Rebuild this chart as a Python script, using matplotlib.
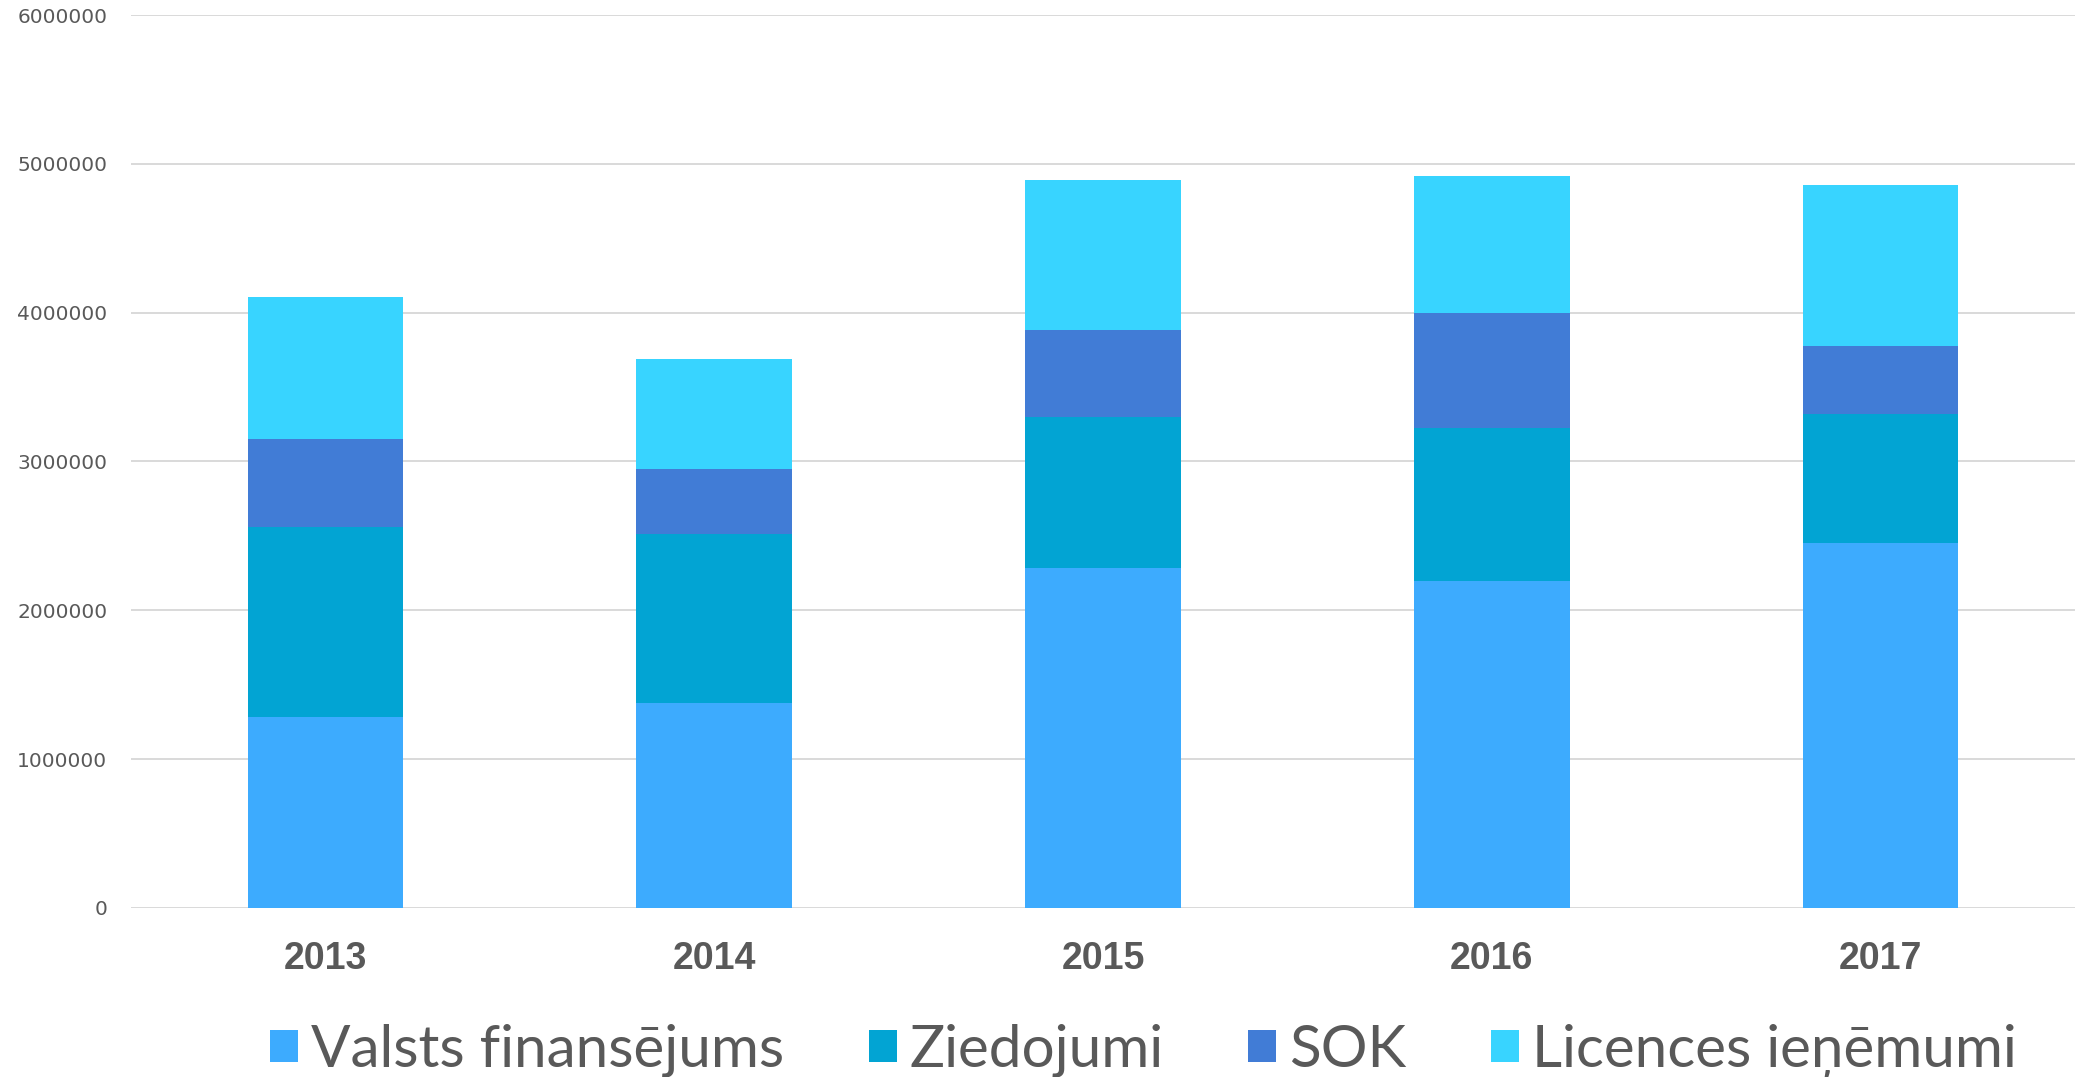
import numpy as np
import matplotlib
matplotlib.use("Agg")
import matplotlib.pyplot as plt
from matplotlib.patches import Patch

years = ["2013", "2014", "2015", "2016", "2017"]
valsts = [1283000, 1378000, 2284000, 2196000, 2454000]
ziedojumi = [1275000, 1138000, 1014000, 1031000, 864000]
sok = [594000, 434000, 586000, 773000, 456000]
licences = [952000, 740000, 1005000, 916000, 1086000]

labels = ["Valsts finansējums", "Ziedojumi", "SOK", "Licences ieņēmumi"]
colors = ["#3DABFE", "#02A4D3", "#417CD6", "#38D4FF"]
gray = "#595959"

fig = plt.figure(figsize=(20.75, 10.77), dpi=100)
ax = fig.add_axes([0.0631, 0.157, 0.9369, 0.829])

x = np.arange(len(years))
bottom = np.zeros(len(years))
for vals, c in zip([valsts, ziedojumi, sok, licences], colors):
    ax.bar(x, vals, width=0.40, bottom=bottom, color=c, zorder=3)
    bottom += np.array(vals)

ax.set_xlim(-0.5, len(years) - 0.5)
ax.set_ylim(0, 6000000)
ax.set_yticks(np.arange(0, 6000001, 1000000))
ax.set_yticklabels([str(v) for v in range(0, 6000001, 1000000)])
ax.grid(axis="y", color="#d9d9d9", linewidth=1.4, zorder=0)
for s in ax.spines.values():
    s.set_visible(False)
ax.tick_params(axis="y", length=0, pad=17, labelsize=14.5, labelcolor=gray)
ax.tick_params(axis="x", length=0, pad=24)
ax.set_xticks(x)
ax.set_xticklabels(years, fontsize=27, fontweight="bold", color=gray,
                   family="Liberation Sans")

handles = [Patch(facecolor=c, edgecolor="none") for c in colors]
leg = fig.legend(handles, labels, loc="center", bbox_to_anchor=(0.551, 0.024),
                 ncol=4, frameon=False, handlelength=0.48, handleheight=0.48,
                 handletextpad=0.22, columnspacing=1.45,
                 prop={"family": "Lato", "size": 42})
for t in leg.get_texts():
    t.set_color(gray)

fig.savefig("out.png", dpi=100)
